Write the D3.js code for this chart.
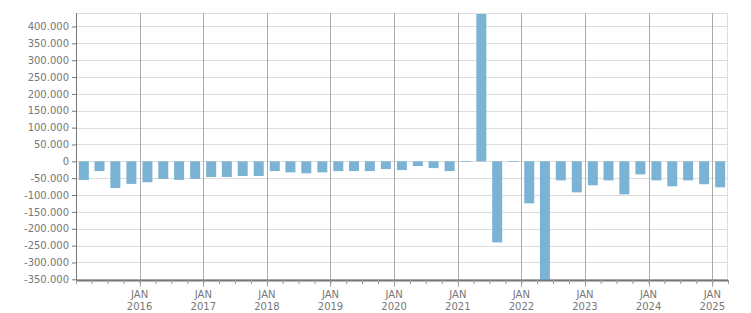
<!DOCTYPE html>
<html>
<head>
<meta charset="utf-8">
<script src="https://cdn.jsdelivr.net/npm/d3@7"></script>
<style>
  body { margin: 0; background: #fff; }
  text { font-family: "DejaVu Sans", Tahoma, sans-serif; font-size: 10px; fill: #777; }
</style>
</head>
<body>
<div id="content"></div>
<script>
// quarterly values, Q1 2015 .. Q1 2025
const quarters = d3.range(41).map(i => new Date(2015, i * 3, 1));
const values = [
  -55500, -29000, -79000, -67000,
  -62000, -52000, -55000, -52000,
  -46500, -46500, -43500, -43500,
  -29000, -32700, -35600, -32700,
  -29000, -29000, -29000, -23000,
  -26000, -14000, -20000, -29000,
  -2000, 437000, -240500, -2000,
  -124700, -360000, -56400, -92000,
  -71000, -56400, -98000, -38600,
  -56400, -74000, -56400, -68000,
  -77000
];
const yTicks = d3.range(-350000, 400001, 50000);
const yearTicks = d3.range(2016, 2026).map(y => new Date(y, 0, 1));

const svg = d3.select("#content").append("svg")
  .attr("width", 751).attr("height", 313);

const margin = { top: 13, right: 23, bottom: 33, left: 76 };
const width = 751 - margin.left - margin.right;
const height = 313 - margin.top - margin.bottom;

const x = d3.scaleTime()
  .domain([new Date(2015, 0, 1), new Date(2025, 3, 1)])
  .range([0, width]);
const y = d3.scaleLinear().domain([-352000, 440000]).range([height, 0]);

const loc = d3.formatLocale({ decimal: ",", thousands: ".", grouping: [3], currency: ["", ""], minus: "-" });
const fmt = loc.format(",d");

const g = svg.append("g")
  .attr("transform", `translate(${margin.left},${margin.top})`);

// horizontal grid
g.append("g").selectAll("line").data(yTicks).enter().append("line")
  .attr("x1", 0).attr("x2", width)
  .attr("y1", d => Math.round(y(d)) + 0.5).attr("y2", d => Math.round(y(d)) + 0.5)
  .attr("stroke", "#ddd");
g.append("line").attr("x1", 0).attr("x2", width).attr("y1", 0.5).attr("y2", 0.5).attr("stroke", "#ddd");
g.append("line").attr("x1", width - 0.5).attr("x2", width - 0.5).attr("y1", 0).attr("y2", height).attr("stroke", "#ddd");

// vertical year grid
g.append("g").selectAll("line").data(yearTicks).enter().append("line")
  .attr("x1", d => Math.round(x(d)) + 0.5).attr("x2", d => Math.round(x(d)) + 0.5)
  .attr("y1", 0).attr("y2", height + 7)
  .attr("stroke", "#aaa");

// bars
const qw = x(new Date(2015, 3, 1)) - x(new Date(2015, 0, 1));
const bw = 10;
g.append("g").attr("clip-path", "url(#clip)")
  .selectAll("rect").data(values).enter().append("rect")
  .attr("x", (d, i) => x(quarters[i]) + qw / 2 - bw / 2)
  .attr("width", bw)
  .attr("y", d => y(Math.max(0, d)))
  .attr("height", d => Math.abs(y(d) - y(0)))
  .attr("fill", "#7ab3d4");
svg.append("clipPath").attr("id", "clip").append("rect")
  .attr("x", 0).attr("y", 0).attr("width", width).attr("height", height);

// y axis
const yAxis = g.append("g")
  .call(d3.axisLeft(y).tickValues(yTicks).tickFormat(fmt).tickSize(4).tickPadding(3));
yAxis.select(".domain").attr("stroke", "#777").attr("d", `M0.5,0V${height}`);
yAxis.selectAll(".tick line").attr("stroke", "#777");
yAxis.selectAll("text").style("fill", "#777");

// x axis: quarterly minor ticks
const xAxis = g.append("g").attr("transform", `translate(0,${height})`)
  .call(d3.axisBottom(x).tickValues(quarters.concat([new Date(2025, 3, 1)])).tickSize(4).tickFormat(""));
xAxis.select(".domain").attr("stroke", "#777").attr("stroke-width", 2).attr("d", `M0,0.5H${width}`);
xAxis.selectAll(".tick line").attr("stroke", "#999");

const lab = g.append("g").selectAll("text").data(yearTicks).enter();
lab.append("text").attr("x", d => x(d)).attr("y", height + 18)
  .attr("text-anchor", "middle").text("JAN");
lab.append("text").attr("x", d => x(d)).attr("y", height + 30)
  .attr("text-anchor", "middle").text(d => d.getFullYear());
</script>
</body>
</html>
